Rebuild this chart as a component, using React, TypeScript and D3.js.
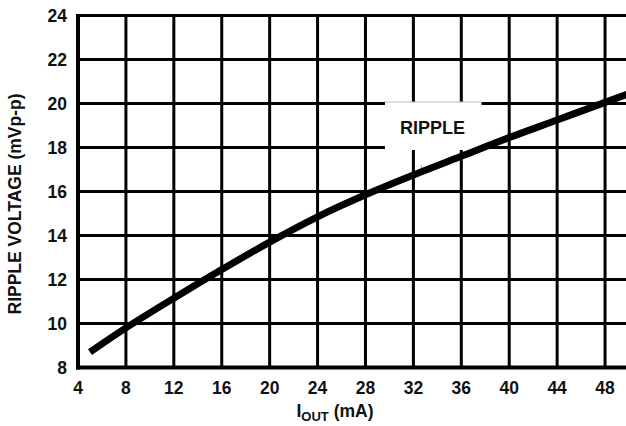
import React from "react";
import * as d3 from "d3";

const xTicks = [4, 8, 12, 16, 20, 24, 28, 32, 36, 40, 44, 48];
const yTicks = [8, 10, 12, 14, 16, 18, 20, 22, 24];
const iOut = [5, 8, 12, 16, 20, 24, 28, 32, 36, 40, 44, 48, 50];
const ripple = [8.7, 9.8, 11.15, 12.45, 13.7, 14.85, 15.85, 16.75, 17.6, 18.45, 19.25, 20.05, 20.45];
const seriesLabel = "RIPPLE";
const xTitle = { main: "I", sub: "OUT", rest: " (mA)" };
const yTitle = "RIPPLE VOLTAGE (mVp-p)";

const W = 626;
const H = 426;
const FONT = "'Liberation Sans', Arial, sans-serif";

export default function App() {
  const x = d3.scaleLinear().domain([4, 50]).range([78, 629]);
  const y = d3.scaleLinear().domain([8, 24]).range([367.5, 15.5]);
  const pts: [number, number][] = iOut.map((v, i) => [v, ripple[i]]);
  const line = d3
    .line<[number, number]>()
    .x((d) => x(d[0]))
    .y((d) => y(d[1]))
    .curve(d3.curveCatmullRom.alpha(0.5));

  const [x0, x1] = x.range();
  const [yb, yt] = y.range();

  return (
    <svg
      width={W}
      height={H}
      style={{ position: "absolute", left: 0, top: 0, background: "#fff" }}
      fontFamily={FONT}
      fontWeight="bold"
    >
      <rect x={0} y={0} width={W} height={H} fill="#fff" />
      {xTicks.slice(1).map((t) => (
        <line key={"vx" + t} x1={x(t)} x2={x(t)} y1={yt} y2={yb} stroke="#000" strokeWidth={3} />
      ))}
      {yTicks.slice(1).map((t) => (
        <line key={"hy" + t} x1={x0} x2={x1} y1={y(t)} y2={y(t)} stroke="#000" strokeWidth={3} />
      ))}
      <rect x={385} y={102} width={96.5} height={48} fill="#fff" />
      <line x1={385} x2={481.5} y1={102} y2={102} stroke="#bbb" strokeWidth={1} />
      <text x={432.5} y={134} textAnchor="middle" fontSize={18} fill="#111">
        {seriesLabel}
      </text>
      <line x1={421} x2={422} y1={165} y2={170} stroke="#999" strokeWidth={1} />
      <path d={line(pts) || ""} fill="none" stroke="#000" strokeWidth={7} />
      <line x1={x0} x2={x0} y1={yt - 1.5} y2={yb + 2} stroke="#000" strokeWidth={4} />
      <line x1={x0 - 2} x2={x1} y1={yb} y2={yb} stroke="#000" strokeWidth={4} />
      {yTicks.map((t) => (
        <text key={"yl" + t} x={67} y={y(t)} dy="0.36em" textAnchor="end" fontSize={17.5} fill="#111">
          {t}
        </text>
      ))}
      {xTicks.map((t) => (
        <text key={"xl" + t} x={x(t)} y={394} textAnchor="middle" fontSize={17.5} fill="#111">
          {t}
        </text>
      ))}
      <text x={335} y={417} textAnchor="middle" fontSize={17.5} fill="#111">
        {xTitle.main}
        <tspan fontSize={13} dy={4}>{xTitle.sub}</tspan>
        <tspan fontSize={17.5} dy={-4}>{xTitle.rest}</tspan>
      </text>
      <text
        transform={`translate(21,${204}) rotate(-90)`}
        textAnchor="middle"
        fontSize={17.5}
        fill="#111"
      >
        {yTitle}
      </text>
    </svg>
  );
}
